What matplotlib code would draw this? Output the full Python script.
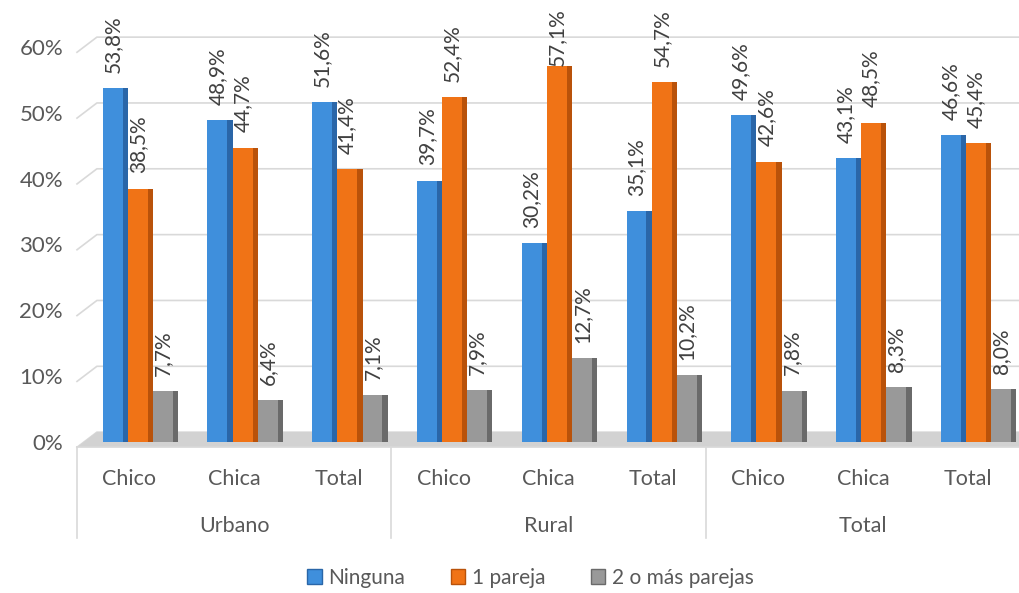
import matplotlib.pyplot as plt
from matplotlib.patches import Patch, Polygon
import numpy as np

plt.rcParams['font.family'] = ['Lato', 'DejaVu Sans']

# data
zonas = ['Urbano', 'Rural', 'Total']
sexos = ['Chico', 'Chica', 'Total']
series = ['Ninguna', '1 pareja', '2 o más parejas']
ninguna = [53.8, 48.9, 51.6, 39.7, 30.2, 35.1, 49.6, 43.1, 46.6]
una_pareja = [38.5, 44.7, 41.4, 52.4, 57.1, 54.7, 42.6, 48.5, 45.4]
dos_mas = [7.7, 6.4, 7.1, 7.9, 12.7, 10.2, 7.8, 8.3, 8.0]
yticks = [0, 10, 20, 30, 40, 50, 60]

caras = ['#3f8fdc', '#f07316', '#999999']
lados = ['#2a66a8', '#b9520a', '#6a6a6a']
txt = '#595959'

fig = plt.figure(figsize=(10.2, 5.93), dpi=100)
ax = fig.add_axes([77/1020, 1 - 442/593, 943/1020, 395/593])
ax.set_xlim(-0.5, 8.5)
ax.set_ylim(0, 60)
for s in ax.spines.values():
    s.set_visible(False)

# fondo: rejilla en el plano trasero con su tramo inclinado
back_dx = 0.19
back_dy = 1.5
front_dy = -0.8
for v in yticks:
    ax.plot([-0.5, -0.5 + back_dx, 8.5], [v + front_dy, v + back_dy, v + back_dy],
            color='#d9d9d9', lw=1.2, zorder=0, clip_on=False)

# suelo
suelo = Polygon([(-0.5, front_dy), (-0.5 + back_dx, back_dy), (8.5, back_dy), (8.5, front_dy)],
                closed=True, facecolor='#d2d2d2', edgecolor='none', zorder=1, clip_on=False)
ax.add_patch(suelo)

x = np.arange(len(ninguna))
datos = [ninguna, una_pareja, dos_mas]
ancho = 0.19
lado = 0.05
paso = 0.24
desp = 0.105
for j, vals in enumerate(datos):
    pos = x + desp + (j - 1) * paso - ancho / 2 - lado / 2
    ax.bar(pos, vals, width=ancho, align='edge', color=caras[j], zorder=3 + j)
    ax.bar(pos + ancho, vals, width=lado, align='edge', color=lados[j], zorder=3 + j)
    for xi, v in zip(pos + ancho / 2, vals):
        # la etiqueta más alta baja para caber, como en el original
        off = 11 if v < 56 else 0
        ax.annotate(f'{v:.1f}%'.replace('.', ','), (xi, v), xytext=(0, off),
                    textcoords='offset points', rotation=90, ha='center', va='bottom',
                    fontsize=15, color='#404040', zorder=10, annotation_clip=False)

ax.set_yticks(yticks)
ax.set_yticklabels([f'{v}%' for v in yticks], fontsize=16, color=txt)
ax.tick_params(axis='y', length=0, pad=10)
ax.set_xticks([])

# eje de categorías en dos niveles
tr = ax.get_xaxis_transform()
y_top = -0.0127
y_bot = -0.243
ax.plot([-0.5, 8.5], [y_top, y_top], color='#d9d9d9', lw=1.2, transform=tr, clip_on=False)
for xb in [-0.5, 2.5, 5.5, 8.5]:
    ax.plot([xb, xb], [y_top, y_bot], color='#d9d9d9', lw=1.2, transform=tr, clip_on=False)
for i in range(len(ninguna)):
    ax.text(i, -0.094, sexos[i % 3], transform=tr, ha='center', va='center',
            fontsize=15.5, color=txt)
for k, z in enumerate(zonas):
    ax.text(3 * k + 1, -0.212, z, transform=tr, ha='center', va='center',
            fontsize=15.5, color=txt)

handles = [Patch(facecolor=caras[j], edgecolor=lados[j]) for j in range(3)]
fig.legend(handles, series, loc='center', bbox_to_anchor=(0.52, 1 - 578/593), ncol=3,
           frameon=False, fontsize=15, handlelength=0.7, handleheight=0.7,
           handletextpad=0.3, columnspacing=2.2, labelcolor=txt)

fig.savefig('out.png', dpi=100)
